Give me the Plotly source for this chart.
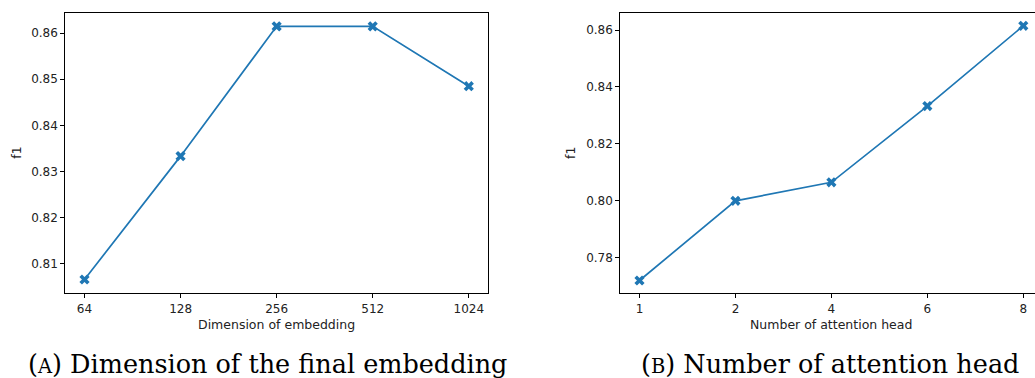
import plotly.graph_objects as go

# ---- data ----
emb_dims = ["64", "128", "256", "512", "1024"]
emb_f1 = [0.8065, 0.8333, 0.8615, 0.8615, 0.8485]

heads = ["1", "2", "4", "6", "8"]
head_f1 = [0.772, 0.800, 0.8065, 0.8333, 0.8615]

left_yticks = [0.81, 0.82, 0.83, 0.84, 0.85, 0.86]
right_yticks = [0.78, 0.80, 0.82, 0.84, 0.86]

W, H = 1035, 378
def px(x):
    return x / W
def py(y):
    return 1 - y / H

BLUE = "#1f77b4"
TICKFONT = dict(family="DejaVu Sans", size=12, color="#222222")

fig = go.Figure()
fig.add_trace(go.Scatter(x=emb_dims, y=emb_f1, mode="lines+markers",
                         line=dict(color=BLUE, width=1.7),
                         marker=dict(symbol="x", size=9, color=BLUE),
                         xaxis="x", yaxis="y", showlegend=False, cliponaxis=False))
fig.add_trace(go.Scatter(x=heads, y=head_f1, mode="lines+markers",
                         line=dict(color=BLUE, width=1.7),
                         marker=dict(symbol="x", size=9, color=BLUE),
                         xaxis="x2", yaxis="y2", showlegend=False, cliponaxis=False))

axis_common = dict(showline=True, linecolor="black", linewidth=1,
                   ticks="outside", ticklen=4, tickwidth=1, tickcolor="black",
                   showgrid=False, zeroline=False, tickfont=TICKFONT)

ydom = [py(293.3), py(13)]
fig.update_layout(
    width=W, height=H,
    margin=dict(l=0, r=0, t=0, b=0),
    paper_bgcolor="white", plot_bgcolor="white",
    xaxis=dict(domain=[px(65.3), px(488)], type="category",
               categoryorder="array", categoryarray=emb_dims,
               range=[-0.2, 4.2], mirror=True, anchor="y", **axis_common),
    yaxis=dict(domain=ydom, range=[0.8035, 0.8644], tickvals=left_yticks,
               tickformat=".2f", mirror=True, anchor="x", **axis_common),
    xaxis2=dict(domain=[px(620.3), 1.0], type="category",
                categoryorder="array", categoryarray=heads,
                range=[-0.2, 4.122], mirror=True, anchor="y2", **axis_common),
    yaxis2=dict(domain=ydom, range=[0.7675, 0.8660], tickvals=right_yticks,
                tickformat=".2f", mirror=False, anchor="x2", **axis_common),
)

LABELFONT = dict(family="DejaVu Sans", size=12.5, color="#222222")
CAPFONT = dict(family="DejaVu Serif", size=25.5, color="black")
annos = [
    dict(x=px(276.7), y=py(324.5), text="Dimension of embedding", font=LABELFONT),
    dict(x=px(831.4), y=py(324.5), text="Number of attention head", font=LABELFONT),
    dict(x=px(15.7), y=py(153), text="f1", textangle=-90, font=LABELFONT),
    dict(x=px(570), y=py(153), text="f1", textangle=-90, font=LABELFONT),
    dict(x=px(267.5), y=py(364), font=CAPFONT,
         text="(<span style='font-size:19.5px'>A</span>) Dimension of the final embedding"),
    dict(x=px(830), y=py(364), font=CAPFONT,
         text="(<span style='font-size:19.5px'>B</span>) Number of attention head"),
]
for a in annos:
    a.update(xref="paper", yref="paper", showarrow=False,
             xanchor="center", yanchor="middle")
fig.update_layout(annotations=annos)

fig.write_html("out.html", config={"displayModeBar": False},
               post_script="document.body.style.margin='0';document.body.style.overflow='hidden';")
